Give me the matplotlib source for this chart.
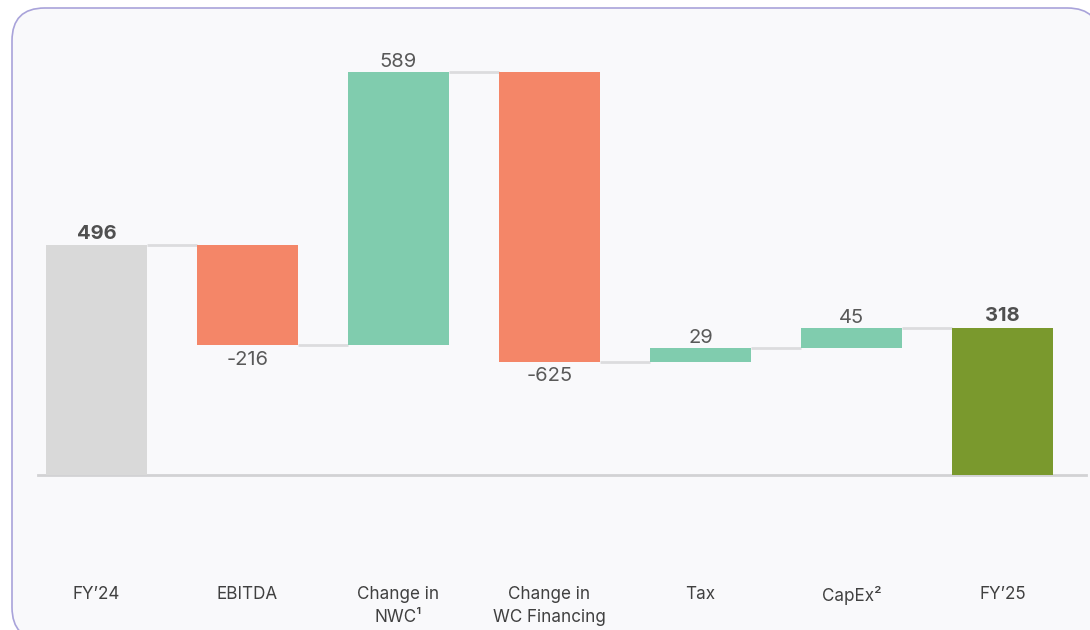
import matplotlib.pyplot as plt
from matplotlib.patches import FancyBboxPatch
import numpy as np

plt.rcParams['font.family'] = ['Inter', 'DejaVu Sans']

# data
categories = ["FY’24", "EBITDA", "Change in\nNWC¹", "Change in\nWC Financing", "Tax", "CapEx²", "FY’25"]
values = [496, -216, 589, -625, 29, 45, 318]
is_total = [True, False, False, False, False, False, True]

c_start = "#d9d9d9"
c_end = "#7a992d"
c_up = "#80ccae"
c_down = "#f48668"

fig = plt.figure(figsize=(10.9, 6.3), dpi=100)
fig.patch.set_facecolor("white")

ax = fig.add_axes([0, 0, 1, 1])
ax.set_facecolor("none")
ax.set_xlim(-96.5 / 151, (1090 - 96.5) / 151)
ax.set_ylim(-155 / 0.4637, 475 / 0.4637)
ax.axis("off")

# rounded panel behind the chart
panel = FancyBboxPatch((12 / 1090, (630 - 640) / 630), (1100 - 12) / 1090, (640 - 8) / 630,
                       boxstyle="round,pad=0,rounding_size=0.03",
                       transform=fig.transFigure, facecolor="#f9f9fb",
                       edgecolor="#a9a3da", linewidth=1.2, zorder=0,
                       mutation_aspect=1090 / 630, clip_on=False)
ax.add_patch(panel)

x = np.arange(len(values))
w = 0.67

# compute bar bottoms / tops
bottoms, heights, colors = [], [], []
running = 0
for i, (v, tot) in enumerate(zip(values, is_total)):
    if tot:
        bottoms.append(0)
        heights.append(v)
        colors.append(c_start if i == 0 else c_end)
        running = v
    else:
        bottoms.append(running if v > 0 else running + v)
        heights.append(abs(v))
        colors.append(c_up if v > 0 else c_down)
        running += v

ax.bar(x, heights, bottom=bottoms, width=w, color=colors, zorder=3)

# connectors
running = 0
levels = []
for v, tot in zip(values, is_total):
    running = v if tot else running + v
    levels.append(running)
for i in range(len(values) - 1):
    ax.plot([x[i] + w / 2, x[i + 1] - w / 2], [levels[i], levels[i]],
            color="#dcdcde", lw=2, zorder=2, solid_capstyle="butt")

# zero line
ax.plot([(38 - 96.5) / 151, (1086 - 96.5) / 151], [0, 0], color="#d2d2d4", lw=2, zorder=2)

# value labels
for i, (v, tot) in enumerate(zip(values, is_total)):
    if tot:
        ax.text(x[i], bottoms[i] + heights[i] + 5, f"{v}", ha="center", va="bottom",
                fontsize=14.5, fontweight="bold", color="#505050", zorder=4)
    elif v > 0:
        ax.text(x[i], bottoms[i] + heights[i] + 2, f"{v}", ha="center", va="bottom",
                fontsize=14.5, color="#595959", zorder=4)
    else:
        ax.text(x[i], bottoms[i] - 12, f"{v}", ha="center", va="top",
                fontsize=14.5, color="#595959", zorder=4)

# category labels
for i, lab in enumerate(categories):
    ax.text(x[i], (475 - 586) / 0.4637, lab, ha="center", va="top",
            fontsize=12.3, color="#404040", linespacing=1.45, zorder=4)

plt.savefig("out.png", dpi=100)
